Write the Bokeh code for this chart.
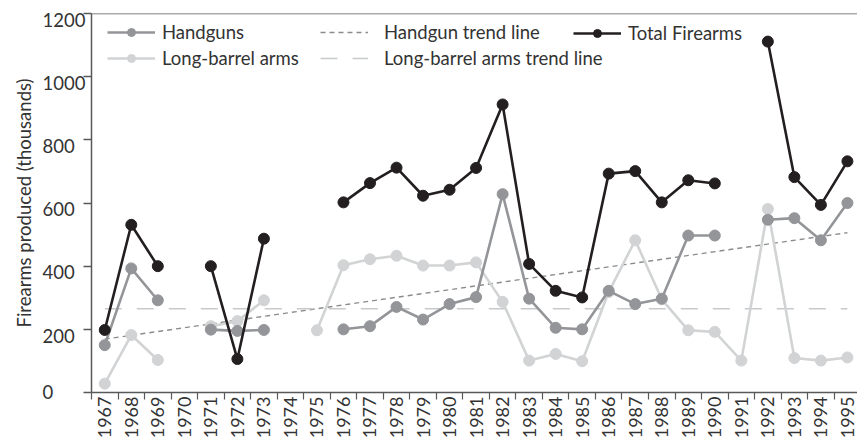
import math
from bokeh.plotting import figure
from bokeh.models import (Range1d, LinearAxis, FixedTicker, Legend, LegendItem,
                          Span, ColumnDataSource)
from bokeh.embed import file_html
from bokeh.resources import INLINE

nan = float("nan")

years = list(range(1967, 1996))
handguns = [150, 393, 292, nan, 199, 195, 198, nan, nan, 200, 210, 271, 231, 280,
            302, 628, 297, 205, 200, 322, 280, 297, 497, 497, nan, 547, 552, 482, 600]
long_barrel = [28, 182, 103, nan, 210, 226, 292, nan, 197, 403, 422, 433, 402, 402,
               412, 287, 101, 122, 99, 318, 482, 295, 197, 192, 101, 581, 109, 101, 111]
total = [198, 531, 400, nan, 400, 106, 487, nan, nan, 602, 663, 712, 623, 642,
         711, 912, 407, 322, 301, 693, 701, 602, 672, 662, nan, 1111, 682, 594, 732]

trend_years = [1967, 1995]
handgun_trend = [169, 506]
long_trend = [265, 265]

y_ticks = [0, 200, 400, 600, 800, 1000, 1200]
x_labels = [str(y) for y in years]

FONT = "Lato"
TXT = "#333333"
AX = "#58595b"
C_TOTAL = "#231f20"
C_HAND = "#939598"
C_LONG = "#d1d3d4"
C_HTREND = "#8c8c8c"
C_LTREND = "#c8c9cb"

src = ColumnDataSource(dict(year=years, hand=handguns, long=long_barrel, total=total))
tsrc = ColumnDataSource(dict(year=trend_years, ht=handgun_trend, lt=long_trend))

X0 = 1966.5
p = figure(width=857, height=441, output_backend="svg", toolbar_location=None,
           x_range=Range1d(X0, 1995.38), y_range=Range1d(0, 1200),
           x_axis_type=None, y_axis_type=None,
           min_border_left=91, min_border_right=0, min_border_top=13, min_border_bottom=46)
p.outline_line_color = None
p.xgrid.visible = False
p.ygrid.visible = False
p.background_fill_color = "white"
p.border_fill_color = "white"

# shifted range so that tick labels sit slightly below their ticks, as in the original
SHIFT = 20
p.extra_y_ranges = {"lab": Range1d(SHIFT - 0.1, 1200 + SHIFT + 0.1)}

# y axis line and tick marks
tick_ax = LinearAxis(ticker=FixedTicker(ticks=y_ticks, minor_ticks=[]),
                     major_tick_out=8, major_tick_in=0, minor_tick_out=0, minor_tick_in=0,
                     axis_line_color=AX, axis_line_width=1.5,
                     major_tick_line_color=AX, major_tick_line_width=1.5,
                     major_label_overrides={t: "" for t in y_ticks},
                     major_label_standoff=0)
p.add_layout(tick_ax, "left")

# y tick labels (left aligned via figure spaces) and axis title
pad = "\u2007"
lab_pos = [max(t, SHIFT) for t in y_ticks]
overrides = {pos: str(t) + pad * (4 - len(str(t))) for pos, t in zip(lab_pos, y_ticks)}
lab_ax = LinearAxis(y_range_name="lab", ticker=FixedTicker(ticks=lab_pos, minor_ticks=[]),
                    major_tick_out=0, major_tick_in=0, minor_tick_out=0, minor_tick_in=0,
                    axis_line_alpha=0, major_tick_line_alpha=0,
                    major_label_overrides=overrides,
                    major_label_text_font=FONT, major_label_text_font_size="18.5px",
                    major_label_text_color=TXT, major_label_standoff=-2,
                    axis_label="Firearms produced (thousands)",
                    axis_label_text_font=FONT, axis_label_text_font_size="18.5px",
                    axis_label_text_font_style="normal", axis_label_text_color=TXT,
                    axis_label_standoff=5)
p.add_layout(lab_ax, "left")

xax = LinearAxis(ticker=FixedTicker(ticks=years, minor_ticks=[y + 0.5 for y in [1966] + years]),
                 major_label_overrides={y: s for y, s in zip(years, x_labels)},
                 major_tick_out=7, major_tick_in=0, major_tick_line_alpha=0,
                 minor_tick_out=7, minor_tick_in=0, minor_tick_line_color=AX,
                 minor_tick_line_width=1.2,
                 axis_line_color=AX, axis_line_width=1.5,
                 major_label_orientation=math.pi / 2,
                 major_label_text_font=FONT, major_label_text_font_size="18px",
                 major_label_text_color=TXT, major_label_standoff=-3)
p.add_layout(xax, "below")

p.add_layout(Span(location=1200, dimension="width", line_color=AX, line_width=1.5))

# trend lines
r_ht = p.line("year", "ht", source=tsrc, line_color=C_HTREND, line_width=1.4, line_dash="5 4")
r_lt = p.line("year", "lt", source=tsrc, line_color=C_LTREND, line_width=1.4, line_dash="17 15")

# series
r_ll = p.line("year", "long", source=src, line_color=C_LONG, line_width=2.6)
r_ls = p.scatter("year", "long", source=src, size=11, fill_color=C_LONG, line_color=C_LONG)
r_hl = p.line("year", "hand", source=src, line_color=C_HAND, line_width=2.6)
r_hs = p.scatter("year", "hand", source=src, size=11, fill_color=C_HAND, line_color=C_HAND)
r_tl = p.line("year", "total", source=src, line_color=C_TOTAL, line_width=2.6)
r_ts = p.scatter("year", "total", source=src, size=11, fill_color=C_TOTAL, line_color=C_TOTAL)


def mk_legend(items, loc, standoff):
    return Legend(items=items, location=loc, orientation="vertical",
                  glyph_width=48, glyph_height=20, label_height=20, label_standoff=standoff,
                  spacing=4, padding=0, margin=0, border_line_alpha=0,
                  background_fill_alpha=0, label_text_font=FONT,
                  label_text_font_size="18.5px", label_text_color=TXT)


leg1 = mk_legend([LegendItem(label="Handguns", renderers=[r_hl, r_hs]),
                  LegendItem(label="Long-barrel arms", renderers=[r_ll, r_ls])], (16, 323), 7)
leg2 = mk_legend([LegendItem(label="Handgun trend line", renderers=[r_ht]),
                  LegendItem(label="Long-barrel arms trend line", renderers=[r_lt])], (229, 323), 16)
leg3 = mk_legend([LegendItem(label="Total Firearms", renderers=[r_tl, r_ts])], (482, 348), 7)
for lg in (leg1, leg2, leg3):
    p.add_layout(lg, "center")

open("out.html", "w").write(file_html(p, INLINE))
